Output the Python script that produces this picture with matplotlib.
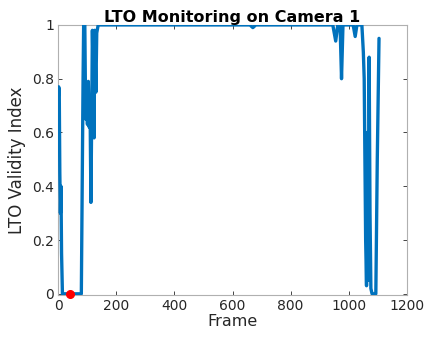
import matplotlib
matplotlib.use("Agg")
import matplotlib.pyplot as plt

frames = [0, 2, 4, 6, 8, 10, 12, 15, 80, 83, 86, 88, 92, 95, 98, 101, 104, 107, 110,
          113, 116, 118, 121, 124, 126, 130, 133, 138, 660, 670, 680, 945, 955, 962,
          970, 975, 980, 1015, 1022, 1028, 1045, 1050, 1053, 1058, 1061, 1064, 1067,
          1070, 1073, 1076, 1080, 1093, 1098, 1104]
validity = [0.70, 0.77, 0.76, 0.45, 0.30, 0.40, 0.15, 0.0, 0.0, 0.4, 0.8, 1.0, 1.0,
            0.65, 0.78, 0.63, 0.79, 0.62, 0.70, 0.34, 0.70, 0.98, 0.80, 0.58, 0.98,
            0.75, 0.97, 1.0, 1.0, 0.99, 1.0, 1.0, 0.94, 1.0, 1.0, 0.80, 1.0, 1.0,
            0.957, 1.0, 1.0, 0.9, 0.8, 0.2, 0.03, 0.6, 0.05, 0.88, 0.3, 0.02, 0.0,
            0.0, 0.5, 0.95]
marker_frame = [40]
marker_value = [0.0]
xticks = [0, 200, 400, 600, 800, 1000, 1200]
yticks = [0, 0.2, 0.4, 0.6, 0.8, 1]
yticklabels = ["0", "0.2", "0.4", "0.6", "0.8", "1"]

fig = plt.figure(figsize=(4.27, 3.37), dpi=100)
ax = fig.add_axes([0.136, 0.125, 0.817, 0.801])
ax.plot(frames, validity, color="#0072BD", linewidth=2.4, solid_joinstyle="round",
        solid_capstyle="round", zorder=3)
ax.plot(marker_frame, marker_value, "o", color="red", markersize=5.5, clip_on=False, zorder=5)
ax.set_xlim(0, 1200)
ax.set_ylim(-0.004, 1)
ax.set_xticks(xticks)
ax.set_yticks(yticks)
ax.set_yticklabels(yticklabels)
ax.tick_params(direction="in", length=3, width=0.6, colors="#262626", labelsize=10,
               top=True, right=True, pad=3)
for s in ax.spines.values():
    s.set_color("#b0b0b0")
    s.set_linewidth(0.8)
ax.set_xlabel("Frame", fontsize=11.5, color="#262626", labelpad=1)
ax.set_ylabel("LTO Validity Index", fontsize=12, color="#262626", labelpad=4)
ax.set_title("LTO Monitoring on Camera 1", fontsize=11.5, fontweight="bold", pad=2)
fig.savefig("out.png", dpi=100)
